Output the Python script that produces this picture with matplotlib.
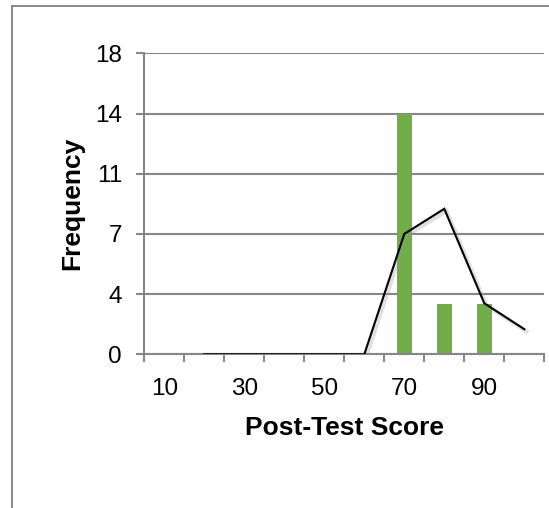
import matplotlib
matplotlib.use("Agg")
import matplotlib.pyplot as plt
import matplotlib.patheffects as pe
from matplotlib.patches import Rectangle

plt.rcParams['font.family'] = ['Liberation Sans', 'DejaVu Sans']

# histogram bins and counts
scores = [10, 20, 30, 40, 50, 60, 70, 80, 90, 100]
freq = [0, 0, 0, 0, 0, 0, 14.4, 3, 3, 0]
# polygon line (starts at 20)
line_scores = [20, 30, 40, 50, 60, 70, 80, 90, 100]
line_freq = [0, 0, 0, 0, 0, 7.2, 8.7, 3.05, 1.5]
xlabels = ['10', '30', '50', '70', '90']
yticks = [0, 3.6, 7.2, 10.8, 14.4, 18]
ylabels = ['0', '4', '7', '11', '14', '18']

grey = '#878787'
green = '#70AD47'

W, H = 549, 508
fig = plt.figure(figsize=(W / 100, H / 100), dpi=100)
ax = fig.add_axes([144.3 / W, 1 - 354.3 / H, 400 / W, 301 / H])

# outer chart border (left + top visible)
fig.patches.append(Rectangle((12.3 / W, -0.2), 1.5, 1.2 - 6 / H,
                             transform=fig.transFigure, fill=False,
                             edgecolor=grey, linewidth=1.4))

pos = {s: i for i, s in enumerate(scores)}
ax.bar([pos[s] for s in scores], freq, width=0.38, color=green, zorder=2)
ax.plot([pos[s] for s in line_scores], line_freq, color='black', lw=1.5,
        zorder=3, solid_joinstyle='miter',
        path_effects=[pe.SimpleLineShadow(offset=(1.5, -1.5), shadow_color='0.6',
                                          alpha=0.3, linewidth=3),
                      pe.Normal()])

ax.set_xlim(-0.5, 9.5)
ax.set_ylim(0, 18)
ax.set_yticks(yticks)
ax.set_yticklabels(ylabels)
ax.set_xticks([i - 0.5 for i in range(11)])
ax.set_xticklabels([])
ax.set_xticks([0, 2, 4, 6, 8], minor=True)
ax.set_xticklabels(xlabels, minor=True)

ax.yaxis.grid(True, color=grey, linewidth=1.5, zorder=1)
ax.set_axisbelow(True)
for sp in ['top', 'right']:
    ax.spines[sp].set_visible(False)
for sp in ['left', 'bottom']:
    ax.spines[sp].set_color(grey)
    ax.spines[sp].set_linewidth(1.5)

ax.tick_params(axis='both', which='major', direction='out', length=6,
               width=1.5, color=grey, labelsize=17.5)
ax.tick_params(axis='y', pad=10)
ax.tick_params(axis='x', which='minor', length=0, labelsize=17.5, pad=17)

ax.set_xlabel('Post-Test Score', fontsize=19, fontweight='bold')
ax.set_ylabel('Frequency', fontsize=19, fontweight='bold')
ax.xaxis.set_label_coords(0.5, -0.205)
ax.yaxis.set_label_coords(-0.15, 0.5)

fig.savefig('out.png', dpi=100, facecolor='white')
